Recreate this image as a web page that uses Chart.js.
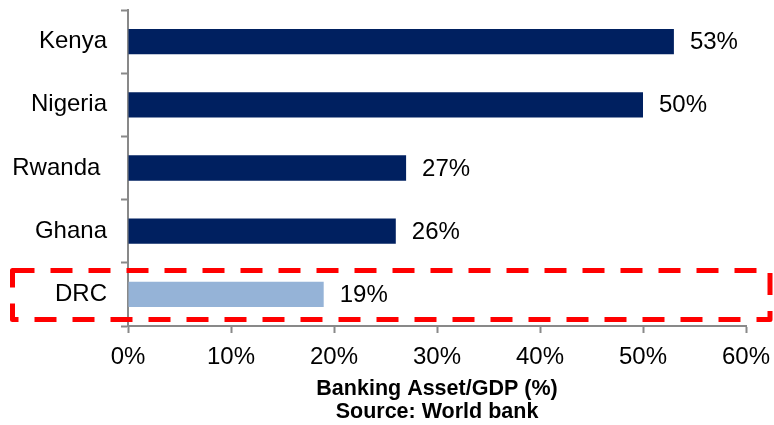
<!DOCTYPE html>
<html>
<head>
<meta charset="utf-8">
<script src="https://cdn.jsdelivr.net/npm/chart.js@4"></script>
<style>
  html, body { margin: 0; padding: 0; background: #fff; }
</style>
</head>
<body>
<canvas id="app" width="774" height="425"></canvas>
<script>
// data
const countries = ['Kenya', 'Nigeria', 'Rwanda ', 'Ghana', 'DRC'];
const assetToGdp = [53, 50, 27, 26, 19];
const barColors = ['#002060', '#002060', '#002060', '#002060', '#95B3D7'];
const axisTitle = ['Banking Asset/GDP (%)', 'Source: World bank'];
const highlighted = 'DRC';

const AXIS_GREY = '#898989';
Chart.defaults.font.family = '"Liberation Sans", Arial, sans-serif';
Chart.defaults.color = '#000';

// value labels at the end of each bar
const valueLabels = {
  id: 'valueLabels',
  afterDatasetsDraw(chart) {
    const { ctx } = chart;
    const meta = chart.getDatasetMeta(0);
    ctx.save();
    ctx.font = '24px "Liberation Sans", Arial, sans-serif';
    ctx.fillStyle = '#000';
    ctx.textBaseline = 'middle';
    meta.data.forEach((bar, i) => {
      ctx.fillText(assetToGdp[i] + '%', bar.x + 16, bar.y + 1);
    });
    ctx.restore();
  }
};

// red dashed frame round the highlighted row
const highlightBox = {
  id: 'highlightBox',
  afterDraw(chart) {
    const { ctx } = chart;
    const y = chart.scales.y.getPixelForValue(countries.indexOf(highlighted));
    ctx.save();
    ctx.strokeStyle = '#FF0000';
    ctx.lineWidth = 5;
    ctx.lineJoin = 'round';
    ctx.setLineDash([22, 16]);
    ctx.strokeRect(12.5, y - 24, chart.width - 16.5, 49);
    ctx.restore();
  }
};

const options = {
  responsive: false,
  maintainAspectRatio: false,
  animation: false,
  indexAxis: 'y',
  layout: { padding: { top: 10, right: 28, left: 0, bottom: 0 } },
  plugins: {
    legend: { display: false },
    tooltip: { enabled: false }
  },
  scales: {
    x: {
      min: 0,
      max: 60,
      ticks: {
        stepSize: 10,
        padding: 10,
        font: { size: 24 },
        callback: v => v + '%'
      },
      grid: {
        drawOnChartArea: false,
        tickLength: 7,
        tickWidth: 2,
        color: AXIS_GREY
      },
      border: { display: true, color: AXIS_GREY, width: 2 },
      title: {
        display: true,
        text: axisTitle,
        font: { size: 21.5, weight: 'bold', lineHeight: 1.05 },
        padding: { top: 0, bottom: 2 }
      },
      afterFit: s => {
        s.height = 99;
        s.paddingLeft = 0;
        s.paddingRight = 0;
      }
    },
    y: {
      type: 'category',
      ticks: { padding: 14, font: { size: 24 } },
      grid: {
        offset: true,
        drawOnChartArea: false,
        tickLength: 7,
        tickWidth: 2,
        color: AXIS_GREY
      },
      border: { display: true, color: AXIS_GREY, width: 2 },
      afterFit: s => {
        s.width = 128;
        s.paddingTop = 0;
        s.paddingBottom = 0;
      }
    }
  }
};

new Chart(document.getElementById('app'), {
  type: 'bar',
  data: {
    labels: countries,
    datasets: [{
      label: 'Banking Asset/GDP (%)',
      data: assetToGdp,
      backgroundColor: barColors,
      categoryPercentage: 1,
      barPercentage: 0.4
    }]
  },
  options,
  plugins: [valueLabels, highlightBox]
});
</script>
</body>
</html>
